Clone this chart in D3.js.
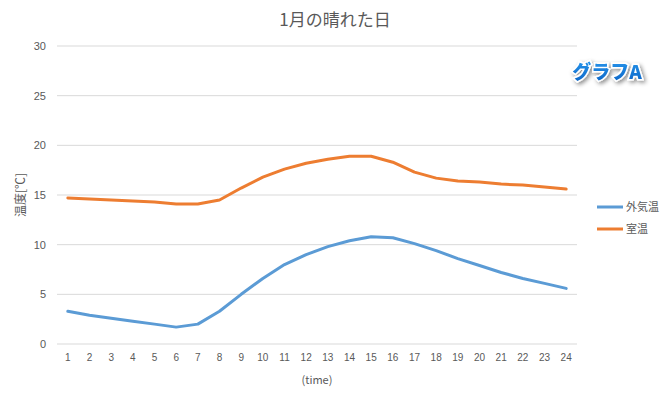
<!DOCTYPE html>
<html>
<head>
<meta charset="utf-8">
<script src="https://cdn.jsdelivr.net/npm/d3@7"></script>
<style>
  body { margin: 0; background: #fff; }
  text { font-family: "Noto Sans CJK JP", "Noto Sans", sans-serif; }
</style>
</head>
<body>
<div id="chart"></div>
<script>
// Data
const hours = d3.range(1, 25).map(String);
const outside = [3.3, 2.9, 2.6, 2.3, 2.0, 1.7, 2.0, 3.3, 5.0, 6.6, 8.0, 9.0, 9.8, 10.4, 10.8, 10.7, 10.1, 9.4, 8.6, 7.9, 7.2, 6.6, 6.1, 5.6];
const room = [14.7, 14.6, 14.5, 14.4, 14.3, 14.1, 14.1, 14.5, 15.7, 16.8, 17.6, 18.2, 18.6, 18.9, 18.9, 18.3, 17.3, 16.7, 16.4, 16.3, 16.1, 16.0, 15.8, 15.6];
const seriesNames = ["外気温", "室温"];
const colors = ["#5B9BD5", "#ED7D31"];
const yTicks = [0, 5, 10, 15, 20, 25, 30];

const W = 672, H = 400;
const margin = {top: 46, right: 95, bottom: 56, left: 57},
      width = W - margin.left - margin.right,
      height = H - margin.top - margin.bottom;

const svg = d3.select("#chart").append("svg")
    .attr("width", W)
    .attr("height", H);

// Title
svg.append("text")
    .attr("x", 335).attr("y", 26)
    .attr("text-anchor", "middle")
    .attr("font-size", 17)
    .attr("fill", "#595959")
    .text("1月の晴れた日");

const g = svg.append("g")
    .attr("transform", `translate(${margin.left},${margin.top})`);

const x = d3.scaleBand().domain(hours).range([0, width]);
const y = d3.scaleLinear().domain([0, 30]).range([height, 0]);

// Gridlines
g.selectAll(".grid").data(yTicks).join("line")
    .attr("x1", 0).attr("x2", width)
    .attr("y1", d => y(d)).attr("y2", d => y(d))
    .attr("stroke", "#d9d9d9").attr("stroke-width", 1);

// Y axis
const yAxis = g.append("g")
    .call(d3.axisLeft(y).tickValues(yTicks).tickSize(0).tickPadding(11));
yAxis.select(".domain").remove();
yAxis.selectAll("text").attr("font-size", 11).attr("fill", "#595959")
    .style("font-family", "'Liberation Sans', sans-serif");

// X axis
const xAxis = g.append("g")
    .attr("transform", `translate(0,${height})`)
    .call(d3.axisBottom(x).tickSize(0).tickPadding(10));
xAxis.select(".domain").remove();
xAxis.selectAll("text").attr("font-size", 10).attr("fill", "#595959")
    .style("font-family", "'Liberation Sans', sans-serif");

// Axis titles
svg.append("text")
    .attr("transform", `translate(25,${margin.top + y(15)}) rotate(-90)`)
    .attr("text-anchor", "middle")
    .attr("font-size", 12)
    .attr("fill", "#595959")
    .text("温度[℃]");

svg.append("text")
    .attr("x", margin.left + width / 2).attr("y", 384)
    .attr("text-anchor", "middle")
    .attr("font-size", 11)
    .attr("fill", "#595959")
    .text("(time)");

// Lines
const line = d3.line()
    .x((d, i) => x(hours[i]) + x.bandwidth() / 2)
    .y(d => y(d));

[outside, room].forEach((s, k) => {
  g.append("path")
    .datum(s)
    .attr("fill", "none")
    .attr("stroke", colors[k])
    .attr("stroke-width", 3)
    .attr("stroke-linejoin", "round")
    .attr("stroke-linecap", "round")
    .attr("d", line);
});

// Legend
const legend = svg.append("g").attr("transform", "translate(597,207)");
seriesNames.forEach((name, k) => {
  const row = legend.append("g").attr("transform", `translate(0,${k * 22})`);
  row.append("line")
    .attr("x1", 0).attr("x2", 26)
    .attr("stroke", colors[k]).attr("stroke-width", 3);
  row.append("text")
    .attr("x", 29).attr("y", 4)
    .attr("font-size", 11)
    .attr("fill", "#595959")
    .text(name);
});

// Badge label
const defs = svg.append("defs");
const grad = defs.append("linearGradient").attr("id", "badge").attr("x1", 0).attr("y1", 0).attr("x2", 0).attr("y2", 1);
grad.append("stop").attr("offset", "0%").attr("stop-color", "#2a9bf0");
grad.append("stop").attr("offset", "100%").attr("stop-color", "#0b62c4");
const shadow = defs.append("filter").attr("id", "shadow").attr("x", "-20%").attr("y", "-30%").attr("width", "150%").attr("height", "180%");
shadow.append("feDropShadow").attr("dx", 2).attr("dy", 2).attr("stdDeviation", 2).attr("flood-color", "#000").attr("flood-opacity", 0.45);

svg.append("text")
    .attr("x", 607).attr("y", 79)
    .attr("text-anchor", "middle")
    .attr("font-size", 19)
    .attr("font-weight", "900")
    .attr("fill", "url(#badge)")
    .attr("stroke", "#fff")
    .attr("stroke-width", 3)
    .attr("paint-order", "stroke")
    .attr("filter", "url(#shadow)")
    .text("グラフA");
</script>
</body>
</html>
